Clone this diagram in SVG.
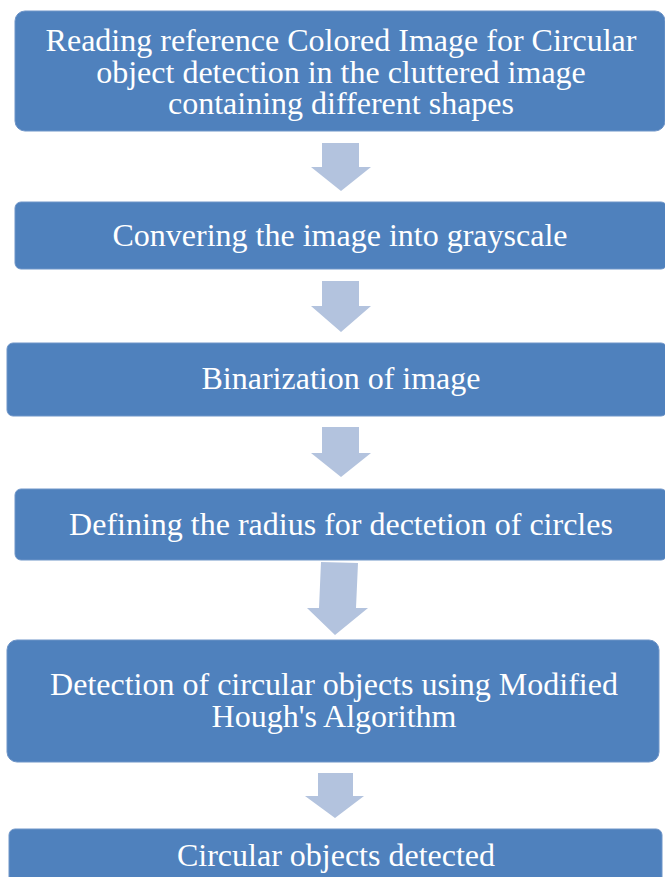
<svg xmlns="http://www.w3.org/2000/svg" width="665" height="877" viewBox="0 0 665 877">
<style>
.box{fill:#4f81bd;stroke:#6f95c8;stroke-width:1}
.t{font-family:"Liberation Serif","Times New Roman",serif;font-size:32px;fill:#ffffff;text-anchor:middle}
.arr{fill:#b3c3de}
</style>
<rect x="0" y="0" width="665" height="877" fill="#ffffff"/>
<g id="connectors">
<polygon class="arr" points="322,143 359,143 359,167 371,167 341,191 311,167 322,167"/>
<polygon class="arr" points="322,281 359,281 359,306 371,306 341,332 311,306 322,306"/>
<polygon class="arr" points="322,427 359,427 359,453 371,453 341,477 311,453 322,453"/>
<polygon class="arr" points="321,562 358,563 356,608 368,608 335,635 307,608 319,608"/>
<polygon class="arr" points="318,773 353,773 353,796 364,796 335,818 305,796 318,796"/>
</g>
<g id="n1">
<rect class="box" x="15" y="11" width="650" height="120" rx="10"/>
<text class="t" x="341" y="51">Reading reference Colored  Image for Circular</text>
<text class="t" x="341" y="83">object detection in the cluttered image</text>
<text class="t" x="341" y="114">containing different shapes</text>
</g>
<g id="n2">
<rect class="box" x="15" y="202" width="652" height="67" rx="6"/>
<text class="t" x="340" y="246">Convering the image into grayscale</text>
</g>
<g id="n3">
<rect class="box" x="7" y="343" width="660" height="73" rx="6"/>
<text class="t" x="341" y="389">Binarization of image</text>
</g>
<g id="n4">
<rect class="box" x="15" y="489" width="652" height="71" rx="6"/>
<text class="t" x="341" y="535">Defining the radius for dectetion of circles</text>
</g>
<g id="n5">
<rect class="box" x="7" y="640" width="652" height="122" rx="10"/>
<text class="t" x="334" y="695">Detection of circular objects using Modified</text>
<text class="t" x="334" y="727">Hough's Algorithm</text>
</g>
<g id="n6">
<rect class="box" x="9" y="829" width="653" height="60" rx="6"/>
<text class="t" x="336" y="866">Circular objects detected</text>
</g>
</svg>
